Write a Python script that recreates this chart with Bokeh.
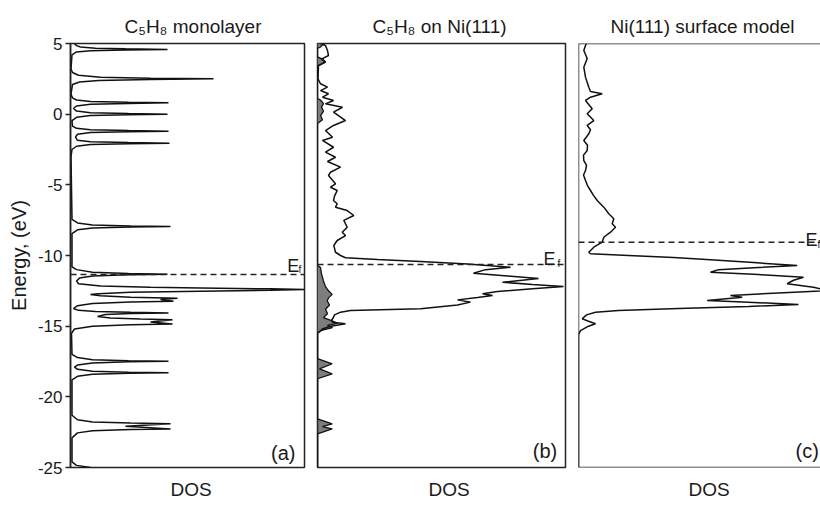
from bokeh.plotting import figure
from bokeh.layouts import row
from bokeh.models import Range1d, FixedTicker, Span, Label, Title
from bokeh.embed import file_html
from bokeh.resources import INLINE

# ---------------- data (energy in eV, DOS in arbitrary units) ----------------
ENERGY_TICKS = [5, 0, -5, -10, -15, -20, -25]
TITLES = ["C\u2085H\u2088 monolayer", "C\u2085H\u2088 on  Ni(111)", "Ni(111) surface model"]
PANEL_TAGS = ["(a)", "(b)", "(c)"]
FERMI_LEVELS = [-11.35, -10.64, -9.06]

# (a) C5H8 monolayer DOS: (energy, dos)
A_CURVE = [
    (5.00, 4), (4.85, 6), (4.75, 10), (4.66, 25), (4.62, 55), (4.58, 97), (4.54, 55), (4.49, 20),
    (4.40, 6), (4.20, 1.5), (3.20, 0.5), (2.95, 2), (2.75, 8), (2.62, 30), (2.55, 80), (2.50, 143),
    (2.46, 80), (2.39, 28), (2.28, 9), (2.10, 2), (1.40, 0.5), (1.15, 2), (1.00, 6), (0.90, 20),
    (0.84, 58), (0.80, 98), (0.76, 58), (0.70, 20), (0.58, 6), (0.40, 3), (0.22, 6), (0.10, 20),
    (0.04, 58), (0.00, 97), (-0.04, 58), (-0.10, 20), (-0.22, 6), (-0.45, 1.5), (-0.85, 2),
    (-1.00, 6), (-1.10, 20), (-1.16, 58), (-1.20, 98), (-1.24, 58), (-1.30, 20), (-1.42, 7),
    (-1.63, 5), (-1.85, 7), (-1.95, 20), (-2.01, 58), (-2.05, 99), (-2.09, 58), (-2.15, 20),
    (-2.27, 6), (-2.50, 1.5), (-3.00, 0.5), (-7.45, 1.5), (-7.70, 7), (-7.85, 22), (-7.91, 60),
    (-7.95, 100), (-7.99, 60), (-8.05, 22), (-8.18, 7), (-8.45, 1.5), (-10.80, 1.5), (-11.00, 6),
    (-11.18, 22), (-11.27, 58), (-11.32, 97), (-11.37, 58), (-11.45, 22), (-11.60, 9),
    (-11.80, 6), (-12.00, 8), (-12.15, 30), (-12.25, 80), (-12.30, 130), (-12.36, 200),
    (-12.41, 234), (-12.46, 200), (-12.53, 130), (-12.60, 60), (-12.70, 28), (-12.76, 20),
    (-12.85, 30), (-12.95, 60), (-13.02, 107), (-13.12, 90), (-13.23, 103), (-13.29, 60),
    (-13.40, 22), (-13.55, 7), (-13.75, 3), (-13.88, 8), (-13.97, 25), (-14.02, 60),
    (-14.06, 98), (-14.10, 60), (-14.18, 35), (-14.32, 27), (-14.42, 40), (-14.50, 70),
    (-14.55, 102), (-14.70, 80), (-14.84, 102), (-14.90, 60), (-15.00, 22), (-15.20, 4),
    (-15.50, 1), (-17.00, 1.5), (-17.22, 7), (-17.37, 22), (-17.44, 58), (-17.48, 98),
    (-17.52, 58), (-17.60, 22), (-17.75, 7), (-17.90, 4), (-18.05, 7), (-18.19, 22),
    (-18.26, 58), (-18.30, 98), (-18.34, 58), (-18.41, 22), (-18.55, 7), (-18.80, 1.5),
    (-21.30, 1.5), (-21.62, 7), (-21.78, 22), (-21.85, 60), (-21.90, 100), (-22.08, 55),
    (-22.27, 100), (-22.32, 60), (-22.40, 22), (-22.55, 7), (-22.90, 1.5), (-24.60, 1.5),
    (-24.85, 6), (-25.00, 20),
]

# (b) C5H8 on Ni(111): total DOS
B_TOTAL = [
    (5.00, 3), (4.86, 8), (4.50, 10), (4.15, 11), (3.90, 4), (3.68, 8), (3.44, 1), (2.50, 0.5),
    (2.15, 3), (1.91, 10), (1.67, 3), (1.44, 11), (1.20, 5), (0.97, 16), (0.73, 8), (0.49, 25),
    (0.14, 16), (-0.45, 28), (-0.80, 16), (-1.16, 8), (-1.63, 15), (-1.86, 5), (-2.34, 16),
    (-2.69, 8), (-3.05, 18), (-3.35, 10), (-3.75, 23), (-4.11, 13), (-4.34, 11), (-4.93, 18),
    (-5.17, 13), (-5.40, 19.7), (-5.80, 17), (-6.11, 16), (-6.34, 19.7), (-6.58, 18),
    (-6.82, 29.7), (-7.17, 36.3), (-7.52, 26.3), (-8.00, 29.7), (-8.35, 24.7), (-8.59, 28),
    (-8.94, 19.7), (-9.29, 16.3), (-9.77, 18), (-10.00, 23), (-10.16, 28), (-10.28, 60),
    (-10.43, 103), (-10.60, 150), (-10.83, 193), (-11.00, 168), (-11.25, 156), (-11.45, 190),
    (-11.63, 221), (-11.89, 185), (-12.05, 215), (-12.19, 246), (-12.35, 215), (-12.55, 180),
    (-12.71, 165), (-12.83, 175), (-12.98, 160), (-13.14, 140), (-13.30, 153), (-13.50, 140),
    (-13.77, 103), (-13.89, 33), (-14.01, 23), (-14.20, 17), (-14.37, 16), (-14.60, 14),
    (-14.72, 15), (-14.83, 28), (-15.02, 12), (-15.20, 5), (-15.50, 0), (-25.00, 0),
]

# (b) C5H8 projected DOS (grey)
B_C5H8 = [
    (5.00, 7), (4.90, 5), (4.75, 3), (4.65, 0), (4.05, 0), (3.90, 5), (3.70, 8), (3.50, 3),
    (3.40, 0), (1.10, 0), (1.00, 3), (0.75, 6), (0.50, 4), (0.20, 6), (-0.10, 3), (-0.40, 5),
    (-0.66, 0), (-10.70, 0), (-10.85, 3), (-11.30, 4), (-11.80, 6), (-12.20, 8), (-12.50, 11),
    (-12.75, 14.7), (-13.00, 11), (-13.20, 9.7), (-13.50, 12), (-13.80, 8), (-14.10, 10),
    (-14.40, 6), (-14.60, 14), (-14.80, 20), (-14.95, 10), (-15.10, 15), (-15.30, 4),
    (-15.50, 0), (-17.30, 0), (-17.66, 14.7), (-18.02, 2), (-18.37, 14.7), (-18.72, 0),
    (-21.56, 0), (-21.91, 14.7), (-22.10, 5), (-22.26, 14.7), (-22.62, 0), (-25.00, 0),
]

# (c) Ni(111) surface model DOS
C_CURVE = [
    (5.00, 8), (4.86, 7), (4.50, 5.3), (3.94, 8.7), (3.32, 5.3), (2.62, 7), (1.91, 10.3),
    (1.60, 12), (1.44, 23.7), (1.20, 12), (0.97, 7), (0.38, 13.7), (0.03, 8.7), (-0.45, 15.3),
    (-0.80, 8.7), (-1.10, 12), (-1.39, 10.3), (-1.86, 5.3), (-2.20, 9), (-2.57, 8.7),
    (-2.90, 5), (-3.28, 5.3), (-3.60, 8), (-3.99, 7), (-4.30, 5), (-4.69, 7), (-5.05, 9),
    (-5.40, 12), (-5.75, 15), (-6.11, 18.7), (-6.58, 25.3), (-7.05, 30.3), (-7.40, 35.3),
    (-7.76, 33.7), (-8.00, 37), (-8.35, 32), (-8.71, 25.3), (-9.06, 23.7), (-9.41, 15.3),
    (-9.77, 10.3), (-9.88, 12), (-10.00, 50), (-10.15, 95), (-10.30, 132), (-10.50, 175),
    (-10.71, 218.7), (-10.85, 180), (-11.00, 140), (-11.18, 132), (-11.35, 180),
    (-11.54, 225), (-11.75, 215), (-12.00, 208.7), (-12.25, 235), (-12.48, 250),
    (-12.65, 200), (-12.83, 152), (-12.95, 163.7), (-13.18, 128.7), (-13.30, 170),
    (-13.47, 220), (-13.60, 170), (-13.75, 100), (-13.90, 40), (-14.01, 17), (-14.20, 8),
    (-14.48, 3.7), (-14.65, 10), (-14.83, 17), (-15.00, 10), (-15.31, 2), (-15.60, 0),
    (-25.00, 0),
]

# ---------------- styling ----------------
FONT = "Liberation Sans"
INK = "#1a1a1a"
LINE = "#111111"
GREY = "#7d7d7d"
H = 509
TOP, BOTTOM = 43, 42


def split(pairs):
    return [p[0] for p in pairs], [p[1] for p in pairs]


def make_fig(width, xmax, left, right, yaxis=False):
    p = figure(width=width, height=H, x_range=Range1d(0, xmax), y_range=Range1d(-25, 5),
               output_backend="svg", toolbar_location=None,
               min_border_left=left, min_border_right=right,
               min_border_top=TOP, min_border_bottom=BOTTOM,
               x_axis_location=None, y_axis_location=("left" if yaxis else None))
    p.xgrid.visible = False
    p.ygrid.visible = False
    p.outline_line_color = "#222222"
    p.outline_line_width = 1.5
    p.background_fill_color = "white"
    p.border_fill_color = "white"
    return p


def add_title(p, text, side, align="center", offset=0, standoff=10):
    p.add_layout(Title(text=text, align=align, offset=offset, standoff=standoff,
                       text_font=FONT, text_font_size="19px", text_font_style="normal",
                       text_color=INK), side)


def add_text(p, x, y, text, size, align="left"):
    p.add_layout(Label(x=x, y=y, text=text, text_font=FONT, text_font_size=size,
                       text_color=INK, text_align=align, text_baseline="alphabetic"))


def add_fermi(p, level, ex, ey, fx, fy):
    p.add_layout(Span(location=level, dimension="width", line_color="#222222",
                      line_width=1.5, line_dash="6 4"))
    add_text(p, ex, ey, "E", "18px")
    add_text(p, fx, fy, "f", "10px")


# ---------------- panel (a) ----------------
pa = make_fig(310, 234, 70, 6, yaxis=True)
ya = pa.yaxis[0]
ya.ticker = FixedTicker(ticks=ENERGY_TICKS)
ya.major_label_overrides = {t: str(t) for t in ENERGY_TICKS}
ya.major_tick_out = 5
ya.major_tick_in = 0
ya.minor_tick_line_color = None
ya.major_tick_line_width = 1.5
ya.major_tick_line_color = "#222222"
ya.axis_line_width = 1.5
ya.axis_line_color = "#222222"
ya.major_label_text_font = FONT
ya.major_label_text_font_size = "17px"
ya.major_label_text_color = INK
ya.major_label_standoff = 3
ya.axis_label = "Energy, (eV)"
ya.axis_label_text_font = FONT
ya.axis_label_text_font_size = "20px"
ya.axis_label_text_font_style = "normal"
ya.axis_label_text_color = INK
ya.axis_label_standoff = 5

ae, ad = split(A_CURVE)
pa.line(x=ad, y=ae, line_color=LINE, line_width=1.5)
add_fermi(pa, FERMI_LEVELS[0], 216.7, -10.71, 228, -10.96)
add_title(pa, TITLES[0], "above", align="left", offset=54, standoff=13)
add_title(pa, "DOS", "below", align="left", offset=100, standoff=19)
add_text(pa, 225, -23.97, PANEL_TAGS[0], "20px", align="right")

# ---------------- panel (b) ----------------
pb = make_fig(261, 248, 7, 6)
ge, gd = split(B_C5H8)
pb.harea(y=ge, x1=[0] * len(ge), x2=gd, fill_color=GREY, fill_alpha=1.0)
pb.line(x=gd, y=ge, line_color=LINE, line_width=1.3)
te, td = split(B_TOTAL)
pb.line(x=td, y=te, line_color=LINE, line_width=1.5)
add_fermi(pb, FERMI_LEVELS[1], 226, -10.23, 240, -10.57)
add_title(pb, TITLES[1], "above", align="left", offset=55, standoff=13)
add_title(pb, "DOS", "below", align="left", offset=111, standoff=19)
add_text(pb, 239.7, -23.85, PANEL_TAGS[1], "20px", align="right")

# ---------------- panel (c) ----------------
pc = make_fig(249, 242, 7, 0)
pc.outline_line_color = None
for loc, dim in [(0, "height"), (5, "width"), (-25, "width")]:
    pc.add_layout(Span(location=loc, dimension=dim, line_color="#222222", line_width=1.5))
ce, cd = split(C_CURVE)
pc.line(x=cd, y=ce, line_color=LINE, line_width=1.5)
add_fermi(pc, FERMI_LEVELS[2], 227, -8.89, 239, -9.2)
add_title(pc, TITLES[2], "above", align="left", offset=32, standoff=13)
add_title(pc, "DOS", "below", align="left", offset=110, standoff=19)
add_text(pc, 217, -23.85, PANEL_TAGS[2], "20px", align="left")

layout = row(pa, pb, pc)
open("out.html", "w").write(file_html(layout, INLINE))
